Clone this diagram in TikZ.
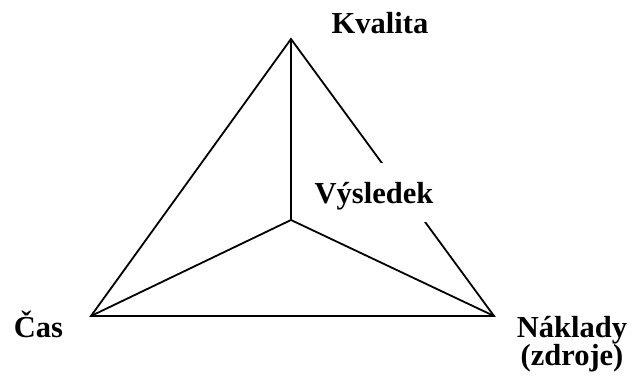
\documentclass[tikz,border=0pt]{standalone}
\usepackage{fontspec}
\setmainfont{Liberation Serif}
\usetikzlibrary{positioning}

\begin{document}
\begin{tikzpicture}[
    x=1pt, y=-1pt,
    edge/.style={line width=1.8pt, line join=miter},
    lbl/.style={font=\fontsize{30.5}{28.5}\selectfont\bfseries, inner sep=0pt, anchor=base},
    cover/.style={lbl, fill=white, inner xsep=3pt, text height=40pt, text depth=19pt}
  ]
  \useasboundingbox (0,0) rectangle (633,380);
  % vertices of the triangle and its centre
  \coordinate (top) at (291,39);
  \coordinate (left) at (91,316);
  \coordinate (right) at (494,316);
  \coordinate (mid) at (291,220);

  \draw[edge] (left) -- (top) -- (right) -- cycle;
  \draw[edge] (mid) -- (top);
  \draw[edge] (mid) -- (left);
  \draw[edge] (mid) -- (right);

  % labels
  \node[cover] (vysledek) at (374,203) {Výsledek};
  \node[lbl] (kvalita) at (380,33) {Kvalita};
  \node[lbl] (cas) at (38.5,337) {Čas};
  \node[lbl, align=center] (naklady) at (572,365.5) {Náklady\\(zdroje)};
\end{tikzpicture}
\end{document}
